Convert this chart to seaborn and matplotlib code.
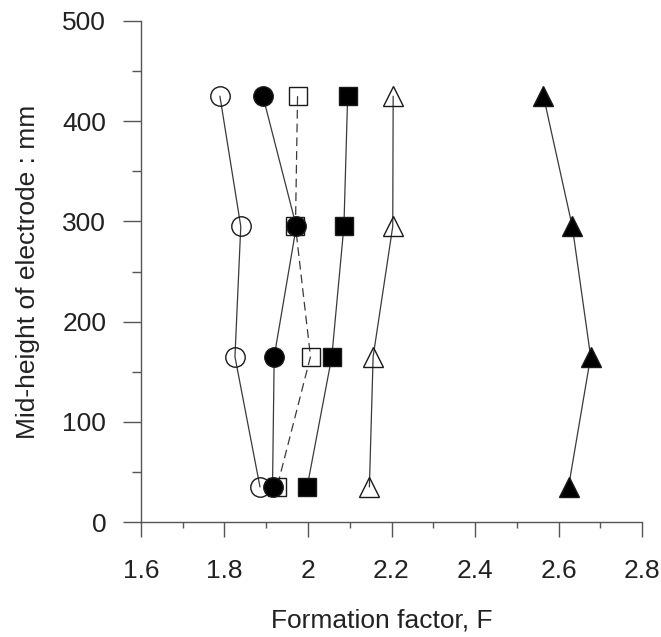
import matplotlib
matplotlib.use("Agg")
import matplotlib.pyplot as plt
import pandas as pd
import seaborn as sns
from matplotlib.ticker import MultipleLocator

# ---- data ----
heights = [425, 295, 165, 35]          # mid-height of electrode (mm)
open_circle = [1.789, 1.839, 1.825, 1.885]
filled_circle = [1.892, 1.972, 1.919, 1.915]
open_square = [1.975, 1.970, 2.006, 1.926]
filled_square = [2.095, 2.086, 2.057, 1.998]
open_triangle = [2.204, 2.203, 2.156, 2.147]
filled_triangle = [2.564, 2.633, 2.677, 2.624]

x_ticks = [1.6, 1.8, 2.0, 2.2, 2.4, 2.6, 2.8]
x_tick_labels = ["1.6", "1.8", "2", "2.2", "2.4", "2.6", "2.8"]
y_ticks = [0, 100, 200, 300, 400, 500]
y_tick_labels = ["0", "100", "200", "300", "400", "500"]
x_label = "Formation factor, F"
y_label = "Mid-height of electrode : mm"

sns.set_theme(style="ticks")
plt.rcParams["font.family"] = ["Liberation Sans", "DejaVu Sans"]

fig = plt.figure(figsize=(6.61, 6.37), dpi=100)
ax = fig.add_axes([141 / 661, 115 / 637, 501 / 661, 501 / 637])

line_color = "#3a3a3a"
edge = "#1a1a1a"
series = [
    (open_circle, dict(marker="o", markersize=14, markerfacecolor="none", linestyle="-")),
    (open_square, dict(marker="s", markersize=13.5, markerfacecolor="none", linestyle=(0, (7, 4)))),
    (filled_circle, dict(marker="o", markersize=14, markerfacecolor="black", linestyle="-")),
    (filled_square, dict(marker="s", markersize=13.5, markerfacecolor="black", linestyle="-")),
    (open_triangle, dict(marker="^", markersize=14, markerfacecolor="none", linestyle="-")),
    (filled_triangle, dict(marker="^", markersize=14, markerfacecolor="black", linestyle="-")),
]
for vals, style in series:
    df = pd.DataFrame({"F": vals, "h": heights})
    sns.lineplot(data=df, x="F", y="h", sort=False, ax=ax, color=line_color,
                 linewidth=0.9, markeredgecolor=edge, markeredgewidth=1.0,
                 legend=False, **style)

ax.set_xlim(1.6, 2.8)
ax.set_ylim(0, 500)
ax.set_xticks(x_ticks, x_tick_labels)
ax.set_yticks(y_ticks, y_tick_labels)
ax.xaxis.set_minor_locator(MultipleLocator(0.1))
ax.yaxis.set_minor_locator(MultipleLocator(50))

sns.despine(ax=ax)
for s in ("left", "bottom"):
    ax.spines[s].set_color("#555555")
    ax.spines[s].set_linewidth(1.0)

ax.tick_params(axis="x", which="major", length=10.8, width=1.0, color="#555555",
               pad=16, labelsize=19, labelcolor="#222222")
ax.tick_params(axis="x", which="minor", length=4.3, width=1.0, color="#555555")
ax.tick_params(axis="y", which="major", length=13, width=1.0, color="#555555",
               pad=12, labelsize=19, labelcolor="#222222")
ax.tick_params(axis="y", which="minor", length=6.7, width=1.0, color="#555555")

ax.set_xlabel(x_label, fontsize=19, color="#222222")
ax.set_ylabel(y_label, fontsize=19, color="#222222")
ax.xaxis.label.set_va("center")
ax.yaxis.label.set_va("center")
ax.xaxis.set_label_coords(0.48, -0.196)
ax.yaxis.set_label_coords(-0.2255, 0.5)
ax.grid(False)

fig.savefig("out.png", dpi=100)
